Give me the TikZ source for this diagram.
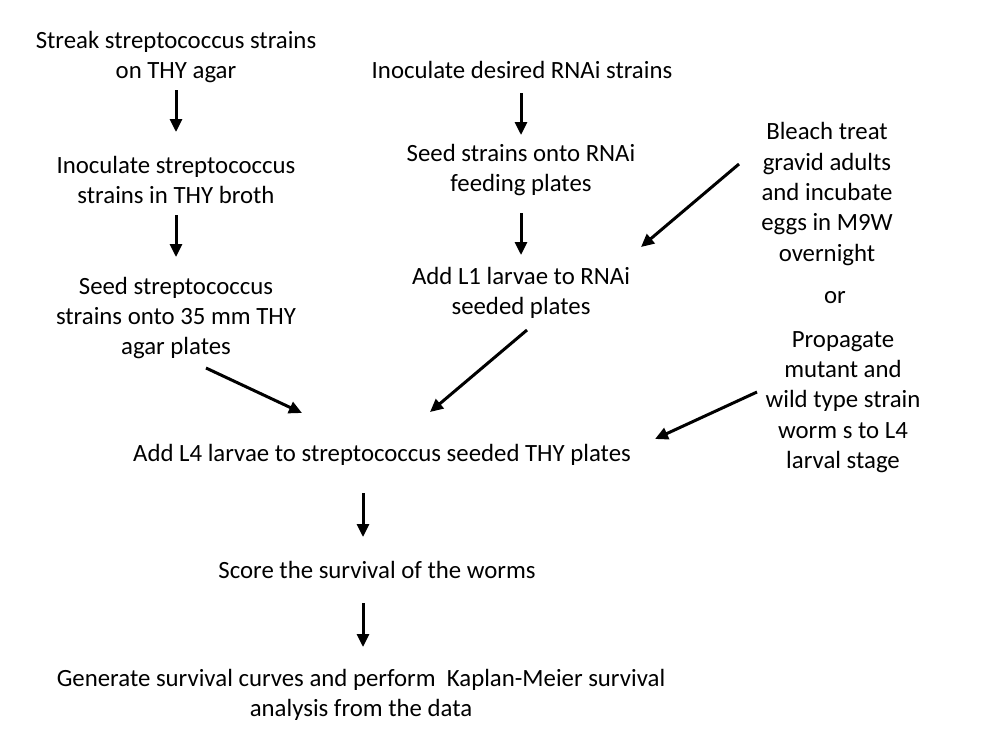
\documentclass[tikz,border=0pt]{standalone}
\usepackage{fontspec}
\setmainfont{Carlito}
\usetikzlibrary{arrows.meta}
\begin{document}
\begin{tikzpicture}[x=1pt,y=-1pt,
  txt/.style={align=center,inner sep=0pt,font=\fontsize{24.8}{30.3}\selectfont},
  arr/.style={line width=3pt,-{Triangle[length=13pt,width=12pt]}}]
\useasboundingbox[fill=white] (0,0) rectangle (1000,750);
\node[txt] (a1) at (176,57) {Streak streptococcus strains\\on THY agar};
\node[txt] (a2) at (176,180) {Inoculate streptococcus\\strains in THY broth};
\node[txt] (a3) at (176,318) {Seed streptococcus\\strains onto 35 mm THY\\agar plates};
\node[txt] (b1) at (522,70) {Inoculate desired RNAi strains};
\node[txt] (b2) at (521,170) {Seed strains onto RNAi\\feeding plates};
\node[txt] (b3) at (521,293) {Add L1 larvae to RNAi\\seeded plates};
\node[txt] (c1) at (827,194) {Bleach treat\\gravid adults\\and incubate\\eggs in M9W\\overnight};
\node[txt] (or) at (835,298) {or};
\node[txt] (c2) at (843,402) {Propagate\\mutant and\\wild type strain\\worm s to L4\\larval stage};
\node[txt] (d) at (382,455) {Add L4 larvae to streptococcus seeded THY plates};
\node[txt] (e) at (377,570) {Score the survival of the worms};
\node[txt] (f) at (361,695) {Generate survival curves and perform\ \ Kaplan-Meier survival\\analysis from the data};
\coordinate (a3e) at (206,368);
\coordinate (da) at (302,413);
\coordinate (b3e) at (527,330);
\coordinate (db) at (430,412);
\coordinate (c1e) at (739,164);
\coordinate (b3c) at (641,247);
\coordinate (c2e) at (757,392);
\coordinate (dc) at (655,439);
\draw[arr] (176,90) -- (176,132);
\draw[arr] (176,215) -- (176,257);
\draw[arr] (521,93) -- (521,135);
\draw[arr] (521,213) -- (521,255);
\draw[arr] (a3e) -- (da);
\draw[arr] (b3e) -- (db);
\draw[arr] (c1e) -- (b3c);
\draw[arr] (c2e) -- (dc);
\draw[arr] (363,493) -- (363,537);
\draw[arr] (363,603) -- (363,647);
\end{tikzpicture}
\end{document}
